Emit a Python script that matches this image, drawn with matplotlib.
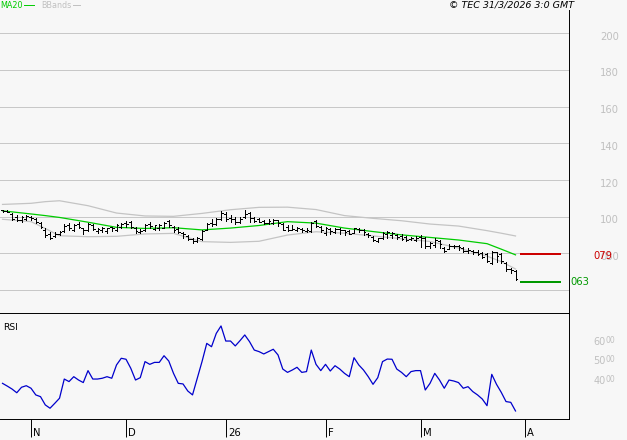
import numpy as np
import matplotlib.pyplot as plt
from matplotlib.lines import Line2D

# daily bars, 24 Oct 2025 .. 30 Mar 2026 (index = trading day)
high = [103.6, 103.6, 101.8, 100.9, 100.6, 100.9, 100.6, 99.1, 96.9, 93.6,
        91.8, 91.5, 92.2, 95.8, 96.4, 95.8, 96.9, 94.0, 96.4, 95.8,
        93.6, 94.6, 94.0, 94.6, 95.8, 96.4, 97.6, 97.6, 94.6, 93.3,
        95.8, 97.3, 95.5, 95.8, 96.9, 98.2, 95.1, 94.6, 91.5, 90.0,
        88.6, 89.1, 92.7, 96.4, 98.7, 99.1, 103.1, 102.7, 100.9, 100.0,
        100.0, 103.6, 102.7, 100.0, 99.1, 98.2, 98.7, 98.7, 98.2, 96.4,
        95.5, 95.5, 94.6, 94.0, 94.0, 96.9, 98.2, 95.1, 94.6, 94.0,
        94.0, 94.0, 93.0, 92.7, 94.0, 93.6, 93.3, 90.9, 89.6, 88.6,
        91.5, 92.2, 91.8, 90.4, 90.4, 89.6, 89.1, 89.6, 90.0, 89.1,
        86.0, 88.6, 87.3, 83.6, 84.9, 84.6, 84.6, 83.6, 83.1, 81.8,
        81.8, 80.6, 80.0, 81.3, 80.9, 80.0, 75.1, 72.2, 70.9]
low = [102.7, 102.4, 98.2, 97.7, 97.3, 98.2, 98.2, 96.4, 93.6, 89.1,
       87.8, 89.1, 90.0, 91.8, 92.7, 92.2, 93.6, 90.4, 92.2, 92.7,
       90.9, 91.8, 90.9, 92.2, 92.2, 93.6, 94.6, 94.0, 90.9, 90.9,
       92.2, 93.6, 92.7, 92.7, 93.6, 94.6, 91.5, 90.9, 88.6, 87.3,
       85.5, 86.0, 87.3, 92.7, 95.1, 95.5, 98.2, 97.6, 96.9, 95.8,
       96.4, 99.1, 97.3, 97.3, 96.9, 95.8, 96.2, 95.8, 95.1, 92.7,
       92.2, 92.7, 92.2, 91.8, 91.5, 91.8, 94.6, 91.5, 90.0, 90.4,
       90.9, 90.4, 90.0, 90.4, 90.9, 91.5, 90.0, 89.1, 86.7, 86.4,
       87.8, 88.6, 88.2, 87.8, 87.3, 86.7, 87.3, 86.7, 83.6, 82.7,
       83.1, 83.6, 83.1, 80.6, 82.4, 82.7, 81.8, 80.6, 80.0, 79.5,
       79.1, 77.6, 75.5, 74.0, 75.5, 74.6, 70.4, 69.1, 65.5]
opn = [103.4, 103.2, 101.5, 100.0, 98.0, 99.0, 100.0, 98.8, 96.5, 93.0,
       90.5, 89.5, 90.5, 92.0, 95.5, 93.0, 95.8, 93.8, 93.0, 95.5,
       92.0, 93.0, 92.0, 94.2, 93.0, 94.5, 96.5, 97.0, 94.0, 91.5,
       92.5, 96.0, 93.5, 94.0, 94.0, 97.5, 94.5, 93.5, 91.0, 89.5,
       88.0, 86.5, 88.0, 93.0, 96.5, 96.0, 99.0, 101.5, 99.5, 99.0,
       97.0, 100.0, 102.0, 99.5, 98.5, 97.5, 96.5, 96.5, 98.0, 96.0,
       94.5, 93.0, 93.0, 93.5, 92.0, 92.0, 97.5, 94.5, 91.0, 93.5,
       91.5, 93.5, 92.5, 92.0, 91.0, 93.5, 92.5, 90.5, 89.0, 87.0,
       88.5, 90.5, 90.0, 90.0, 89.5, 89.0, 87.8, 87.5, 89.0, 88.5,
       84.0, 84.5, 86.5, 83.0, 82.5, 84.0, 84.0, 83.0, 81.5, 81.5,
       81.0, 80.0, 79.5, 75.0, 80.5, 79.5, 74.5, 71.5, 70.5]
close = [103.0, 102.8, 99.0, 98.2, 99.8, 100.2, 99.2, 97.0, 94.5, 90.0,
         88.5, 90.5, 91.5, 95.0, 94.0, 95.3, 94.5, 93.0, 96.0, 93.5,
         93.5, 93.8, 94.0, 93.8, 95.6, 96.2, 96.0, 94.5, 92.0, 92.3,
         95.5, 95.0, 95.3, 95.3, 96.8, 95.5, 92.5, 91.5, 90.8, 88.0,
         86.5, 88.5, 92.0, 96.0, 96.0, 98.8, 102.0, 98.5, 98.5, 97.0,
         98.8, 101.5, 99.5, 97.8, 97.3, 96.5, 97.5, 98.0, 96.5, 93.0,
         92.5, 93.2, 94.0, 92.5, 92.8, 96.5, 95.0, 92.5, 94.0, 92.0,
         93.5, 92.5, 91.5, 90.8, 93.8, 92.5, 91.5, 89.8, 87.5, 88.3,
         91.0, 91.5, 91.3, 88.8, 88.0, 87.2, 88.2, 88.5, 88.3, 84.0,
         85.5, 87.5, 85.0, 81.5, 84.0, 83.8, 83.3, 81.5, 82.0, 80.5,
         79.5, 78.0, 76.0, 80.8, 78.5, 76.0, 71.5, 71.2, 66.0]

rsi = [37.0, 35.6, 34.1, 32.2, 35.0, 35.8, 34.5, 31.1, 30.2, 26.0,
       24.3, 26.8, 29.4, 39.2, 37.9, 40.4, 38.7, 37.4, 43.5, 39.2,
       39.2, 39.6, 40.4, 39.6, 46.4, 49.8, 49.3, 44.7, 38.7, 39.9,
       48.1, 46.7, 47.7, 47.7, 51.1, 48.4, 42.1, 37.0, 36.7, 33.1,
       31.1, 39.6, 48.1, 57.4, 55.7, 62.5, 66.3, 58.6, 58.6, 56.1,
       58.8, 61.7, 58.3, 54.0, 53.2, 52.0, 53.2, 54.4, 51.5, 44.3,
       42.6, 43.8, 45.2, 42.6, 43.0, 54.0, 46.7, 43.5, 46.7, 43.3,
       46.0, 44.3, 42.1, 40.4, 50.1, 46.4, 43.8, 40.4, 36.5, 39.9,
       48.1, 49.4, 49.3, 44.3, 42.6, 40.4, 43.0, 43.5, 43.5, 33.6,
       37.0, 42.1, 38.7, 34.5, 38.7, 38.2, 37.4, 34.5, 35.3, 32.8,
       31.1, 29.0, 25.6, 41.6, 36.5, 32.4, 27.7, 27.3, 22.9]

# MA20 and Bollinger bands, read at these bar indices
band_idx = [0, 6, 9, 12, 18, 24, 30, 36, 42, 48, 54, 60, 66, 72, 78, 84, 90, 96, 102, 105, 108]
ma20 = [103.2, 101.5, 100.6, 99.6, 97.0, 94.2, 93.6, 94.0, 92.8, 93.8, 95.2, 97.3, 96.5,
        93.8, 91.9, 90.1, 88.7, 87.3, 85.3, 82.3, 79.2]
bb_up = [106.7, 107.3, 108.2, 108.7, 106.0, 102.0, 100.4, 100.2, 101.8, 103.8, 105.1, 105.2,
         103.9, 100.6, 99.1, 97.8, 96.0, 94.9, 92.4, 91.0, 89.5]
bb_dn = [98.6, 97.3, 93.6, 89.6, 89.1, 89.3, 90.6, 90.9, 86.4, 86.0, 86.6, 90.0, 91.8,
         91.0, 89.5, 88.0, 86.5, 82.9, 78.5, 75.5, 71.5]

levels = [79.5, 64.2]
level_labels = ["079", "063"]
level_colors = ["#cc0000", "#009900"]

grid_vals = [60, 80, 100, 120, 140, 160, 180, 200]
grid_labels = ["060", "080", "100", "120", "140", "160", "180", "200"]
rsi_vals = [40, 50, 60]

month_idx = [6, 26, 47, 68, 88, 110]
month_labels = ["N", "D", "26", "F", "M", "A"]

bg = "#f7f7f7"
gridc = "#c8c8c8"
W, H = 627, 440
LW = 0.7  # about one pixel

plt.rcParams['font.family'] = ['DejaVu Sans']

fig = plt.figure(figsize=(W / 100, H / 100), dpi=100, facecolor=bg)


def px_rect(x0, y0, x1, y1):
    return [x0 / W, 1 - y1 / H, (x1 - x0) / W, (y1 - y0) / H]


ax = fig.add_axes(px_rect(0, 10, 569, 314))
ax_rsi = fig.add_axes(px_rect(0, 314, 569, 419))

x = np.arange(len(close))
xlim = (-0.53, 119.26)

# price panel
ax.set_facecolor(bg)
for g in grid_vals:
    ax.axhline(g, color=gridc, lw=LW, zorder=0, antialiased=False)
ax.plot(band_idx, bb_up, color="#c4c4c4", lw=0.9, zorder=1)
ax.plot(band_idx, bb_dn, color="#c4c4c4", lw=0.9, zorder=1)
ax.plot(band_idx, ma20, color="#00cc00", lw=0.9, zorder=2)
ax.vlines(x, low, high, colors="k", lw=LW, antialiased=False, zorder=3)
ax.hlines(opn, x - 0.4, x, colors="k", lw=LW, antialiased=False, zorder=3)
ax.hlines(close, x, x + 0.4, colors="k", lw=LW, antialiased=False, zorder=3)

for lv, c in zip(levels, level_colors):
    ax.hlines(lv, 109, 117.6, colors=c, lw=1.4, antialiased=False, zorder=3)

for g, t in zip(grid_vals, grid_labels):
    if g < 70:
        continue
    ax.annotate(t, xy=(1, g), xycoords=("axes fraction", "data"), xytext=(50, -3.5),
                textcoords="offset pixels", ha="right", va="center",
                fontsize=7.2, color="#c0c0c0", annotation_clip=False)

ax.annotate(level_labels[0], xy=(1, levels[0]), xycoords=("axes fraction", "data"),
            xytext=(24, -2), textcoords="offset pixels", ha="left", va="center",
            fontsize=7.2, color=level_colors[0], annotation_clip=False)
ax.annotate(level_labels[1], xy=(1, levels[1]), xycoords=("axes fraction", "data"),
            xytext=(1, 0), textcoords="offset pixels", ha="left", va="center",
            fontsize=7.2, color=level_colors[1], annotation_clip=False)

ax.set_xlim(*xlim)
ax.set_ylim(46.95, 212.7)
ax.set_xticks([])
ax.set_yticks([])
for s in ["top", "left"]:
    ax.spines[s].set_visible(False)
ax.spines["bottom"].set_linewidth(1.4)
ax.spines["right"].set_linewidth(LW)

# rsi panel
ax_rsi.set_facecolor(bg)
ax_rsi.plot(x, rsi, color="#0000cc", lw=0.9)
ax_rsi.set_xlim(*xlim)
ax_rsi.set_ylim(18.8, 72.4)
ax_rsi.set_yticks([])
ax_rsi.set_xticks(month_idx)
ax_rsi.tick_params(axis="x", length=13, width=LW, direction="out", labelbottom=False)
for s in ["top", "left"]:
    ax_rsi.spines[s].set_visible(False)
ax_rsi.spines["bottom"].set_linewidth(LW)
ax_rsi.spines["right"].set_linewidth(LW)

for m, t in zip(month_idx, month_labels):
    ax_rsi.annotate(t, xy=(m, 0), xycoords=("data", "axes fraction"), xytext=(2, -14),
                    textcoords="offset pixels", ha="left", va="center", fontsize=7.2,
                    annotation_clip=False)

for r in rsi_vals:
    ax_rsi.annotate(str(r), xy=(1, r), xycoords=("axes fraction", "data"), xytext=(37, -3.5),
                    textcoords="offset pixels", ha="right", va="center",
                    fontsize=7.0, color="#c0c0c0", annotation_clip=False)
    ax_rsi.annotate("00", xy=(1, r), xycoords=("axes fraction", "data"), xytext=(37, -2),
                    textcoords="offset pixels", ha="left", va="center",
                    fontsize=5.5, color="#c0c0c0", annotation_clip=False)

ax_rsi.annotate("RSI", xy=(0, 1), xycoords="axes fraction", xytext=(3, -13),
                textcoords="offset pixels", ha="left", va="center", fontsize=6.6)

# header
fig.text(0, 1 - 5 / H, "MA20", color="#00cc00", fontsize=5.8, va="center", ha="left")
fig.add_artist(Line2D([24 / W, 34 / W], [1 - 5 / H] * 2, color="#00cc00", lw=LW,
                      transform=fig.transFigure))
fig.text(41 / W, 1 - 5 / H, "BBands", color="#c0c0c0", fontsize=5.8, va="center", ha="left")
fig.add_artist(Line2D([73 / W, 80 / W], [1 - 5 / H] * 2, color="#c0c0c0", lw=LW,
                      transform=fig.transFigure))
fig.text(574 / W, 1 - 4.5 / H, "\u00a9 TEC 31/3/2026 3:0 GMT", fontsize=6.8, style="italic",
         va="center", ha="right")

fig.savefig("out.png", dpi=100, facecolor=bg)
